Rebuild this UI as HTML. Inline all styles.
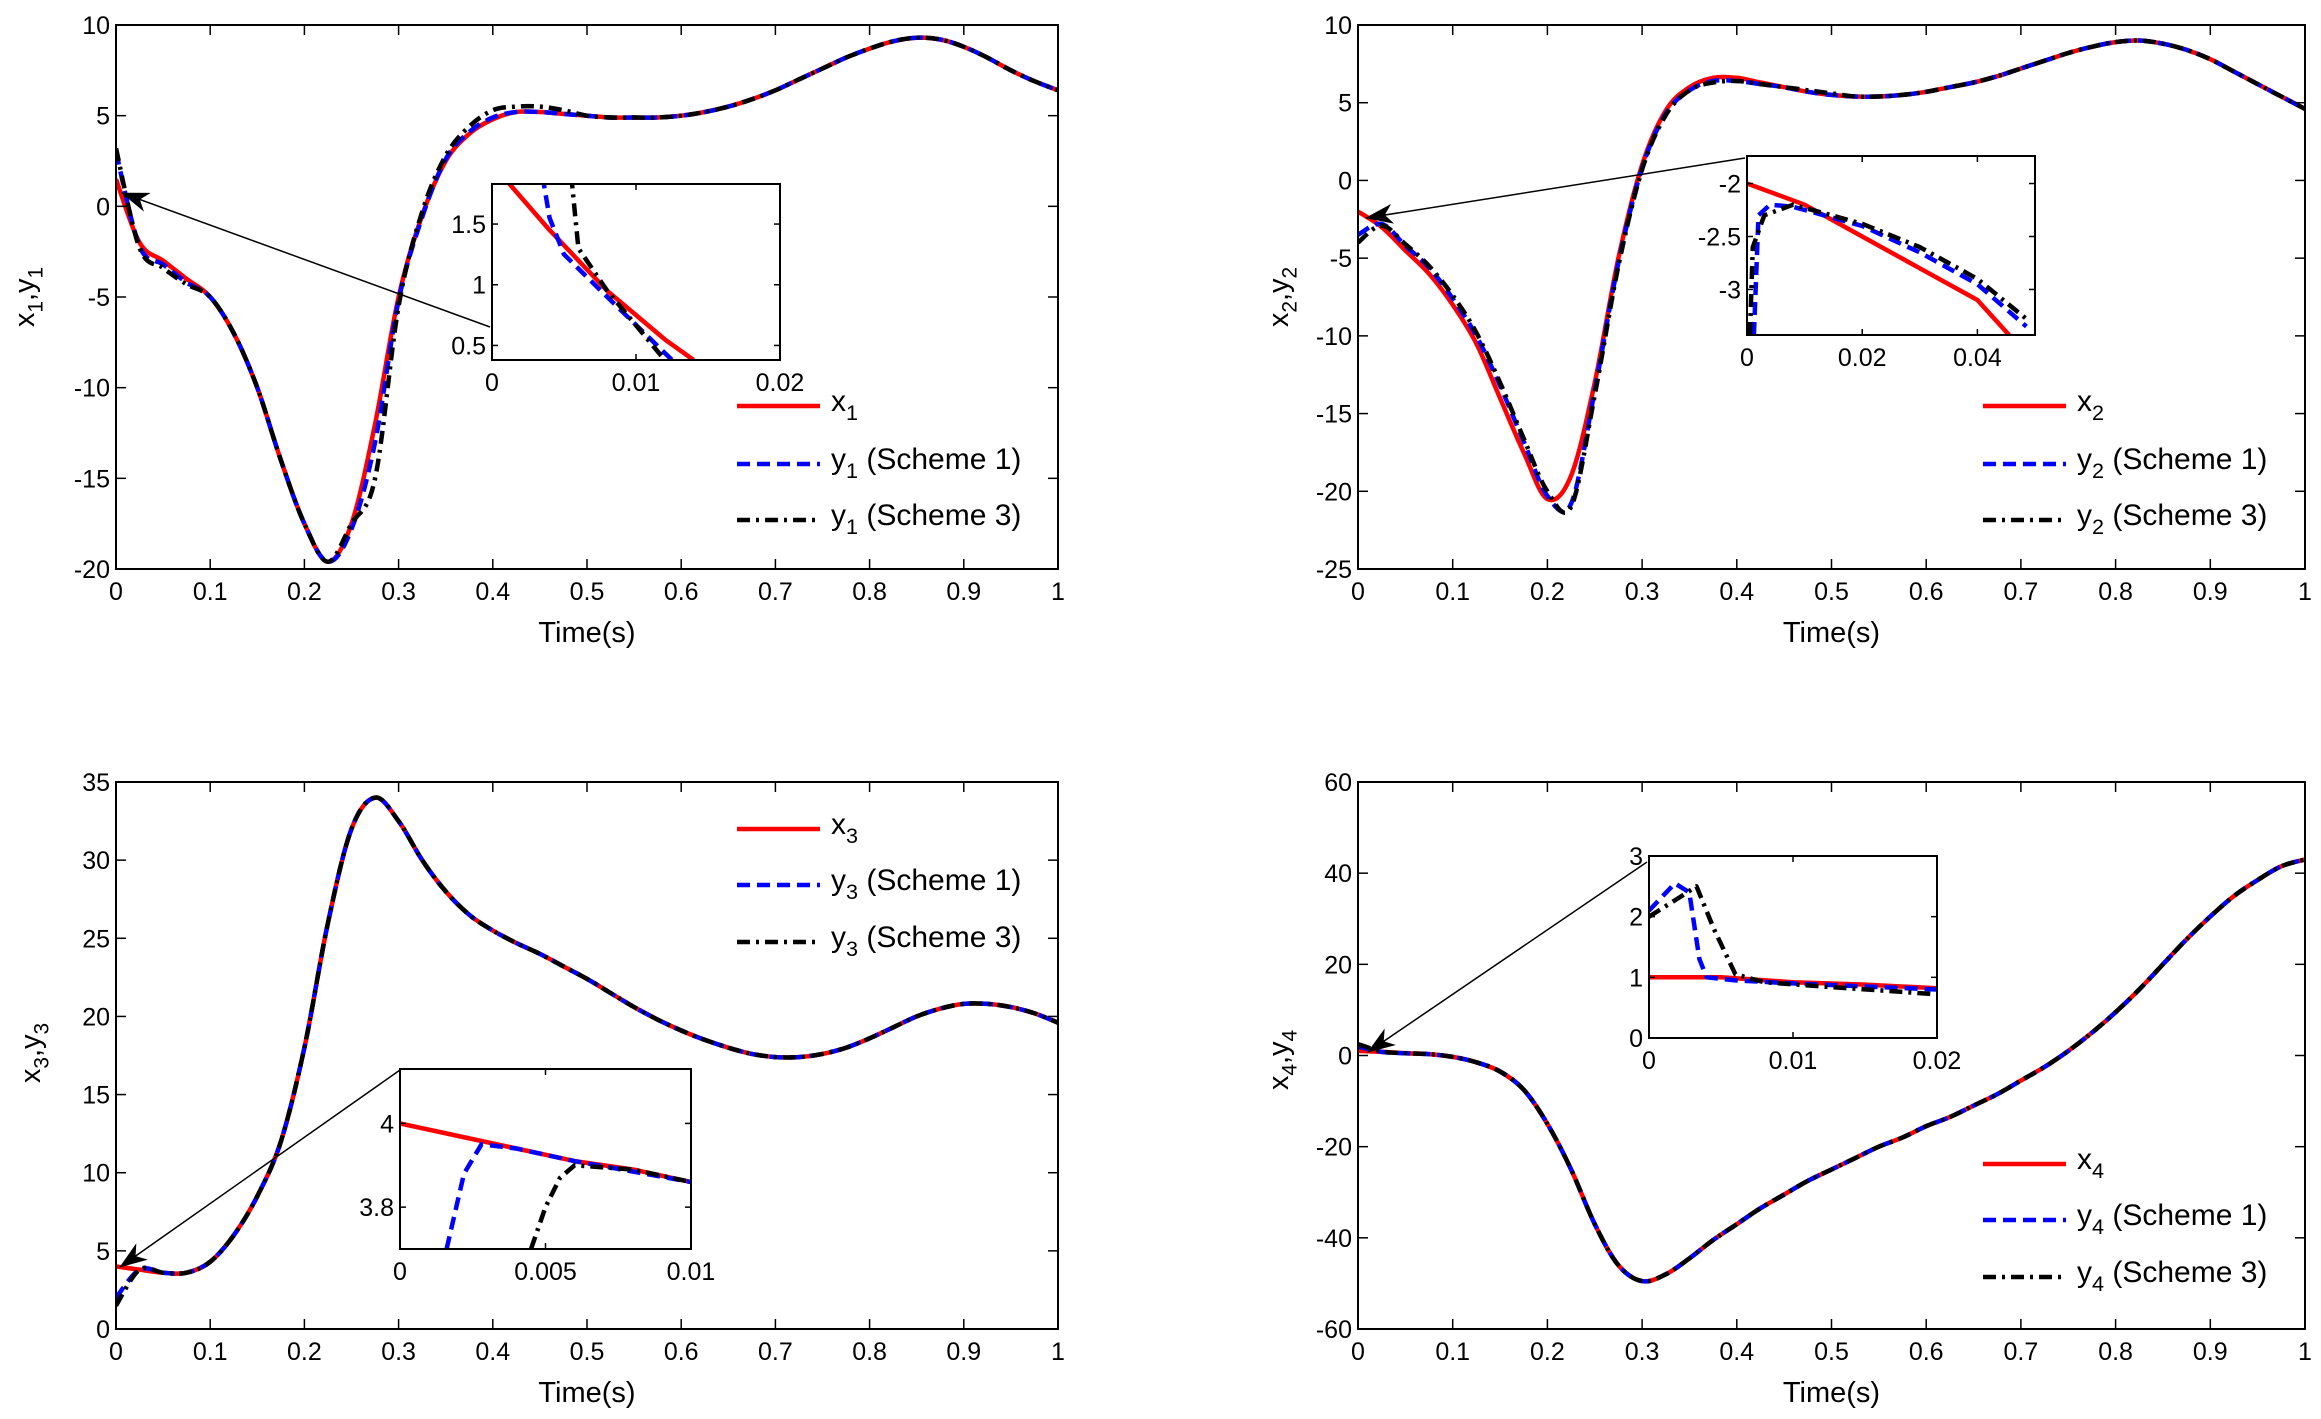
<!DOCTYPE html>
<html><head><meta charset="utf-8"><style>
html,body{margin:0;padding:0;background:#fff;}
svg{display:block;font-family:"Liberation Sans",sans-serif;}
</style></head><body>
<svg id="fig" width="2321" height="1419" viewBox="0 0 2321 1419" xmlns="http://www.w3.org/2000/svg"></svg>
<script>
const T = [];
for (let i = 0; i <= 40; i++) T.push(i / 40);
// Panel 1
const x1 = [1.5,-2,-3,-4,-5,-7,-10,-14,-17.5,-19.6,-17.5,-12,-5,-0.5,2.5,4,4.8,5.2,5.2,5.1,5.0,4.9,4.9,4.9,5.0,5.2,5.5,5.9,6.4,7.0,7.6,8.2,8.7,9.1,9.3,9.2,8.8,8.2,7.5,6.9,6.4];
const y1s1 = [3,-2.2,-3.2,-4.2,-5,-7,-10,-14,-17.5,-19.6,-17.8,-13,-5.2,-0.6,2.6,4.1,4.9,5.2,5.2,5.1,5.0,4.9,4.9,4.9,5.0,5.2,5.5,5.9,6.4,7.0,7.6,8.2,8.7,9.1,9.3,9.2,8.8,8.2,7.5,6.9,6.4];
const y1s3 = [3.2,-2.3,-3.4,-4.3,-5,-7,-10,-14,-17.5,-19.6,-17.5,-15,-5.5,-0.3,2.8,4.4,5.3,5.5,5.5,5.3,5.0,4.9,4.9,4.9,5.0,5.2,5.5,5.9,6.4,7.0,7.6,8.2,8.7,9.1,9.3,9.2,8.8,8.2,7.5,6.9,6.4];
// Panel 2
const x2 = [-2,-3,-4.5,-6,-8,-10.5,-14,-17.5,-20.5,-19,-13,-5,1,4.5,6,6.6,6.6,6.3,6.0,5.7,5.5,5.4,5.4,5.5,5.7,6.0,6.3,6.7,7.2,7.7,8.2,8.6,8.9,9.0,8.8,8.4,7.8,7.0,6.2,5.4,4.6];
const y2s1 = [-3.5,-2.8,-4.2,-5.6,-7.6,-10,-13.2,-16.8,-20.3,-20.8,-13.5,-5.3,0.8,4.3,5.8,6.4,6.4,6.2,6.0,5.7,5.5,5.4,5.4,5.5,5.7,6.0,6.3,6.7,7.2,7.7,8.2,8.6,8.9,9.0,8.8,8.4,7.8,7.0,6.2,5.4,4.6];
const y2s3 = [-4,-2.9,-4.1,-5.5,-7.4,-9.8,-13,-16.6,-20,-21,-13.8,-5.5,0.7,4.2,5.8,6.3,6.4,6.2,6.0,5.8,5.6,5.4,5.4,5.5,5.7,6.0,6.3,6.7,7.2,7.7,8.2,8.6,8.9,9.0,8.8,8.4,7.8,7.0,6.2,5.4,4.6];
// Panel 3
const x3 = [4,3.8,3.6,3.6,4.3,6,8.5,12,18,26,32,34,32.5,30,28,26.5,25.5,24.7,24,23.2,22.4,21.5,20.6,19.8,19.1,18.5,18,17.6,17.4,17.4,17.6,18,18.6,19.3,20,20.5,20.8,20.8,20.6,20.2,19.6];
const y3s1 = [2,3.8,3.6,3.6,4.3,6,8.5,12,18,26,32,34,32.5,30,28,26.5,25.5,24.7,24,23.2,22.4,21.5,20.6,19.8,19.1,18.5,18,17.6,17.4,17.4,17.6,18,18.6,19.3,20,20.5,20.8,20.8,20.6,20.2,19.6];
const y3s3 = [1.5,3.8,3.6,3.6,4.3,6,8.5,12,18,26,32,34,32.5,30,28,26.5,25.5,24.7,24,23.2,22.4,21.5,20.6,19.8,19.1,18.5,18,17.6,17.4,17.4,17.6,18,18.6,19.3,20,20.5,20.8,20.8,20.6,20.2,19.6];
// Panel 4
const x4 = [1,0.8,0.5,0.3,-0.3,-1.5,-3.5,-7.5,-15,-25,-37,-46,-49.5,-48,-44.5,-40.5,-37,-33.5,-30.5,-27.5,-25,-22.5,-20,-18,-15.5,-13.5,-11,-8.5,-5.5,-2.5,1,5,9.5,14.5,20,25.5,30.5,35,38.5,41.5,43];
const y4s1 = [2,0.8,0.5,0.3,-0.3,-1.5,-3.5,-7.5,-15,-25,-37,-46,-49.5,-48,-44.5,-40.5,-37,-33.5,-30.5,-27.5,-25,-22.5,-20,-18,-15.5,-13.5,-11,-8.5,-5.5,-2.5,1,5,9.5,14.5,20,25.5,30.5,35,38.5,41.5,43];
const y4s3 = [2.5,0.9,0.5,0.3,-0.3,-1.5,-3.5,-7.5,-15,-25,-37,-46,-49.5,-48,-44.5,-40.5,-37,-33.5,-30.5,-27.5,-25,-22.5,-20,-18,-15.5,-13.5,-11,-8.5,-5.5,-2.5,1,5,9.5,14.5,20,25.5,30.5,35,38.5,41.5,43];
// Insets
const i1t_x = [0.0007,0.004,0.008,0.012,0.014];   const i1v_x = [1.9,1.45,0.95,0.55,0.38];
const i1t_a = [0.0035,0.004,0.005,0.008,0.0125];  const i1v_a = [1.9,1.55,1.25,0.9,0.38];
const i1t_b = [0.0055,0.006,0.008,0.012];         const i1v_b = [1.9,1.3,0.95,0.38];
const i2t_x = [0,0.01,0.02,0.03,0.04,0.0455];     const i2v_x = [-2,-2.2,-2.5,-2.8,-3.1,-3.43];
const i2t_a = [0.0012,0.002,0.004,0.008,0.02,0.03,0.04,0.0485]; const i2v_a = [-3.43,-2.3,-2.2,-2.22,-2.4,-2.65,-2.95,-3.35];
const i2t_b = [0.0005,0.001,0.003,0.008,0.02,0.03,0.04,0.049];  const i2v_b = [-3.43,-2.6,-2.3,-2.2,-2.38,-2.6,-2.9,-3.3];
const i3t_x = [0,0.002,0.004,0.006,0.008,0.01];   const i3v_x = [4.0,3.97,3.94,3.91,3.89,3.86];
const i3t_a = [0.0016,0.0022,0.0028,0.004,0.006,0.01]; const i3v_a = [3.70,3.88,3.95,3.94,3.91,3.86];
const i3t_b = [0.0045,0.005,0.0055,0.006,0.008,0.01];  const i3v_b = [3.70,3.80,3.87,3.90,3.89,3.86];
const i4t_x = [0,0.005,0.01,0.015,0.02];          const i4v_x = [1,1,0.92,0.88,0.82];
const i4t_a = [0,0.0018,0.0028,0.0035,0.004,0.006,0.01,0.02]; const i4v_a = [2.1,2.55,2.4,1.3,1.0,0.95,0.9,0.8];
const i4t_b = [0,0.002,0.0033,0.0045,0.006,0.008,0.012,0.02]; const i4v_b = [2,2.3,2.5,1.8,1.05,0.92,0.85,0.72];

const NS = "http://www.w3.org/2000/svg";
const svg = document.getElementById('fig');
function mk(tag, attrs, parent) {
  const e = document.createElementNS(NS, tag);
  for (const k in attrs) e.setAttribute(k, attrs[k]);
  (parent || svg).appendChild(e);
  return e;
}
const STY = [
  {stroke:'#ff0000', dash:null},
  {stroke:'#0000ff', dash:'13,7'},
  {stroke:'#000000', dash:'13,6,3,6'}
];
function axes(L, R, Tp, B, xmin, xmax, ymin, ymax, name, xticks, yticks, xfmt, fs, tickLen) {
  const g = mk('g', {});
  
  
  const sx = v => L + (v - xmin) / (xmax - xmin) * (R - L);
  const sy = v => B - (v - ymin) / (ymax - ymin) * (B - Tp);
  mk('rect', {x:L, y:Tp, width:R-L, height:B-Tp, fill:'#fff', stroke:'none'}, g);
  return {g, sx, sy, L, R, Tp, B, xticks, yticks, xfmt, fs, tickLen};
}
function frame(a) {
  const {g, sx, sy, L, R, Tp, B, fs, tickLen} = a;
  a.xticks.forEach((v, i) => {
    const x = sx(v);
    const t1 = mk('line', {x1:x, y1:B, x2:x, y2:B - tickLen, stroke:'#000', 'stroke-width':1.5}, g);
    
    mk('line', {x1:x, y1:Tp, x2:x, y2:Tp + tickLen, stroke:'#000', 'stroke-width':1.5}, g);
    const tx = mk('text', {x:x, y:B + fs + 6, 'font-size':fs, 'text-anchor':'middle'}, g);
    
    
    tx.textContent = a.xfmt[i];
  });
  a.yticks.forEach(v => {
    const y = sy(v);
    mk('line', {x1:L, y1:y, x2:L + tickLen, y2:y, stroke:'#000', 'stroke-width':1.5}, g);
    mk('line', {x1:R, y1:y, x2:R - tickLen, y2:y, stroke:'#000', 'stroke-width':1.5}, g);
    const ty = mk('text', {x:L - 6, y:y + fs*0.36, 'font-size':fs, 'text-anchor':'end'}, g);
    
    
    ty.textContent = String(v);
  });
  mk('rect', {x:L, y:Tp, width:R-L, height:B-Tp, fill:'none', stroke:'#000', 'stroke-width':2}, g);
}
function series(a, ts, vs, k, w, name, clip, smooth) {
  const P = ts.map((t, i) => [a.sx(t), a.sy(vs[i])]);
  let d = 'M' + P[0][0].toFixed(1) + ',' + P[0][1].toFixed(1);
  for (let i = 0; i < P.length - 1; i++) {
    if (!smooth) { d += 'L' + P[i+1][0].toFixed(1) + ',' + P[i+1][1].toFixed(1); continue; }
    const p0 = P[Math.max(0, i-1)], p1 = P[i], p2 = P[i+1], p3 = P[Math.min(P.length-1, i+2)];
    const c1 = [p1[0] + (p2[0]-p0[0])/6, p1[1] + (p2[1]-p0[1])/6];
    const c2 = [p2[0] - (p3[0]-p1[0])/6, p2[1] - (p3[1]-p1[1])/6];
    d += 'C' + c1[0].toFixed(1) + ',' + c1[1].toFixed(1) + ' ' + c2[0].toFixed(1) + ',' + c2[1].toFixed(1) + ' ' + p2[0].toFixed(1) + ',' + p2[1].toFixed(1);
  }
  const p = mk('path', {d:d, fill:'none', stroke:STY[k].stroke, 'stroke-width':w, 'stroke-linejoin':'round'}, a.g);
  if (STY[k].dash) p.setAttribute('stroke-dasharray', STY[k].dash);
  if (clip) p.setAttribute('clip-path', 'url(#' + clip + ')');
  
  
}
let clipN = 0;
function clipFor(a) {
  const id = 'c' + (clipN++);
  const cp = mk('clipPath', {id:id});
  mk('rect', {x:a.L, y:a.Tp, width:a.R-a.L, height:a.B-a.Tp}, cp);
  return id;
}
function subText(parent, x, y, fs, parts, anchor, name) {
  const t = mk('text', {x:x, y:y, 'font-size':fs, 'text-anchor':anchor || 'start'}, parent);
  
  
  parts.forEach(p => {
    const s = mk('tspan', {}, t);
    if (p.sub) { s.setAttribute('font-size', fs*0.72); s.setAttribute('dy', fs*0.3); }
    else if (p.after) { s.setAttribute('dy', -fs*0.3); }
    s.textContent = p.t;
  });
  return t;
}
const mainXT = [0,0.1,0.2,0.3,0.4,0.5,0.6,0.7,0.8,0.9,1];
const mainXF = ['0','0.1','0.2','0.3','0.4','0.5','0.6','0.7','0.8','0.9','1'];
const panels = [
  {L:116,R:1058,Tp:25,B:569,ymin:-20,ymax:10,yt:[-20,-15,-10,-5,0,5,10],d:[x1,y1s1,y1s3],n:'1',lx:737,ly:[406,464,520],ylx:24,yly:297,
   inset:{L:492,R:780,Tp:184,B:360,xmin:0,xmax:0.02,ymin:0.38,ymax:1.83,xt:[0,0.01,0.02],xf:['0','0.01','0.02'],yt:[0.5,1,1.5],
   d:[[i1t_x,i1v_x],[i1t_a,i1v_a],[i1t_b,i1v_b]]},arrow:[490,327,122,193]},
  {L:1358,R:2305,Tp:25,B:569,ymin:-25,ymax:10,yt:[-25,-20,-15,-10,-5,0,5,10],d:[x2,y2s1,y2s3],n:'2',lx:1983,ly:[406,464,520],ylx:1278,yly:297,
   inset:{L:1747,R:2035,Tp:156,B:335,xmin:0,xmax:0.05,ymin:-3.43,ymax:-1.74,xt:[0,0.02,0.04],xf:['0','0.02','0.04'],yt:[-3,-2.5,-2],
   d:[[i2t_x,i2v_x],[i2t_a,i2v_a],[i2t_b,i2v_b]]},arrow:[1745,158,1366,218]},
  {L:116,R:1058,Tp:782,B:1329,ymin:0,ymax:35,yt:[0,5,10,15,20,25,30,35],d:[x3,y3s1,y3s3],n:'3',lx:737,ly:[829,885,942],ylx:30,yly:1053,
   inset:{L:400,R:691,Tp:1069,B:1249,xmin:0,xmax:0.01,ymin:3.70,ymax:4.13,xt:[0,0.005,0.01],xf:['0','0.005','0.01'],yt:[3.8,4],
   d:[[i3t_x,i3v_x],[i3t_a,i3v_a],[i3t_b,i3v_b]]},arrow:[400,1070,120,1267]},
  {L:1358,R:2305,Tp:782,B:1329,ymin:-60,ymax:60,yt:[-60,-40,-20,0,20,40,60],d:[x4,y4s1,y4s3],n:'4',lx:1983,ly:[1164,1220,1277],ylx:1278,yly:1060,
   inset:{L:1649,R:1937,Tp:856,B:1038,xmin:0,xmax:0.02,ymin:0,ymax:3,xt:[0,0.01,0.02],xf:['0','0.01','0.02'],yt:[0,1,2,3],
   d:[[i4t_x,i4v_x],[i4t_a,i4v_a],[i4t_b,i4v_b]]},arrow:[1647,862,1368,1052]}
];
const defs = mk('defs', {});
const mrk = mk('marker', {id:'ah', markerWidth:28, markerHeight:20, refX:27, refY:10, orient:'auto', markerUnits:'userSpaceOnUse'}, defs);
mk('path', {d:'M0,0 L28,10 L0,20 L8,10 Z', fill:'#000'}, mrk);

panels.forEach((p, pi) => {
  const a = axes(p.L, p.R, p.Tp, p.B, 0, 1, p.ymin, p.ymax, 'panel-' + p.n, mainXT, p.yt, mainXF, 25, 10);
  const cid = clipFor(a);
  const names = ['x' + p.n + '-line', 'y' + p.n + '-scheme1-line', 'y' + p.n + '-scheme3-line'];
  [0,1,2].forEach(k => series(a, T, p.d[k], k, 4.5, names[k], cid, true));
  frame(a);
  const xl = mk('text', {x:(p.L + p.R) / 2, y:p.B + 73, 'font-size':29, 'text-anchor':'middle'}, a.g);
  
  
  xl.textContent = 'Time(s)';
  const yl = subText(a.g, 0, 0, 29, [{t:'x'},{t:p.n,sub:true},{t:',y',after:true},{t:p.n,sub:true}], 'middle', 'y-axis-title');
  yl.setAttribute('transform', 'translate(' + (p.ylx + 10) + ',' + p.yly + ') rotate(-90)');
  const ar = mk('line', {x1:p.arrow[0], y1:p.arrow[1], x2:p.arrow[2], y2:p.arrow[3], stroke:'#000', 'stroke-width':1.5, 'marker-end':'url(#ah)'}, a.g);
  
  
  const q = p.inset;
  const b = axes(q.L, q.R, q.Tp, q.B, q.xmin, q.xmax, q.ymin, q.ymax, 'inset-' + p.n, q.xt, q.yt, q.xf, 25, 6);
  const cid2 = clipFor(b);
  [0,1,2].forEach(k => series(b, q.d[k][0], q.d[k][1], k, 4.5, 'inset-' + names[k], cid2, false));
  frame(b);
  const lg = mk('g', {});
  
  
  const labels = [[{t:'x'},{t:p.n,sub:true}], [{t:'y'},{t:p.n,sub:true},{t:' (Scheme 1)',after:true}], [{t:'y'},{t:p.n,sub:true},{t:' (Scheme 3)',after:true}]];
  [0,1,2].forEach(k => {
    const ln = mk('line', {x1:p.lx, y1:p.ly[k], x2:p.lx + 83, y2:p.ly[k], stroke:STY[k].stroke, 'stroke-width':4.5}, lg);
    if (STY[k].dash) ln.setAttribute('stroke-dasharray', STY[k].dash);
    
    
    subText(lg, p.lx + 94, p.ly[k] + 5, 30, labels[k], 'start', 'legend-entry');
  });
});
</script>
</body></html>
